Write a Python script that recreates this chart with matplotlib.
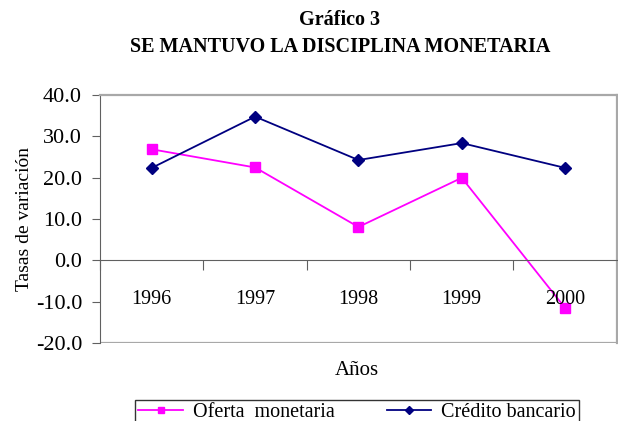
import numpy as np
import matplotlib.pyplot as plt

# data
years = ['1996', '1997', '1998', '1999', '2000']
oferta = [26.9, 22.5, 8.1, 20.0, -11.5]
credito = [22.4, 34.8, 24.3, 28.4, 22.4]

plt.rcParams['font.family'] = ['Liberation Serif', 'DejaVu Serif']

fig = plt.figure(figsize=(6.18, 4.21), dpi=100)
ax = fig.add_axes([0.162, 0.185, 0.836, 0.589])

x = np.arange(len(years))

ax.plot(x, oferta, color='#FF00FF', marker='s', markersize=7, lw=1.3,
        label='Oferta  monetaria')
ax.plot(x, credito, color='#000080', marker='D', markersize=6, lw=1.3,
        label='Crédito bancario')

ax.set_xlim(-0.5, len(years) - 0.5)
ax.set_ylim(-20, 40)
ax.set_yticks(np.arange(-20, 41, 10))
ax.set_yticklabels([f'{v:.1f}' for v in np.arange(-20, 41, 10)], fontsize=16)
ax.tick_params(axis='y', length=6, color='#606060', pad=7)

# x axis crosses at zero, ticks between categories
ax.spines['bottom'].set_position(('data', 0))
ax.spines['bottom'].set_color('#606060')
ax.set_xticks(np.arange(-0.5, len(years), 1.0))
ax.set_xticklabels([])
ax.tick_params(axis='x', direction='out', length=7, color='#606060')
for i, yr in enumerate(years):
    ax.text(i, -9.5, yr, ha='center', va='center', fontsize=14.5)

ax.axhline(-20, color='#a8a8a8', lw=1.6)
ax.spines['top'].set_color('#a8a8a8')
ax.spines['top'].set_linewidth(1.6)
ax.spines['right'].set_color('#a8a8a8')
ax.spines['right'].set_linewidth(1.6)
ax.spines['left'].set_color('#606060')

ax.set_ylabel('Tasas de variación', fontsize=14)
ax.yaxis.set_label_coords(-0.155 + 0.025, 0.5)
fig.text(0.578, 0.121, 'Años', ha='center', va='center', fontsize=15)

fig.text(0.55, 0.952, 'Gráfico 3', ha='center', va='center',
         fontsize=14.5, fontweight='bold')
fig.text(0.55, 0.888, 'SE MANTUVO LA DISCIPLINA MONETARIA', ha='center',
         va='center', fontsize=14.5, fontweight='bold')

leg = fig.legend(loc='upper center', bbox_to_anchor=(0.578, 0.05), ncol=2,
                 fontsize=14.5, frameon=True, fancybox=False, edgecolor='black',
                 handlelength=2.2, columnspacing=2.6, borderpad=0.15,
                 borderaxespad=0, handletextpad=0.5, markerscale=0.7)
leg.get_frame().set_linewidth(1.0)

fig.savefig('out.png', dpi=100)
